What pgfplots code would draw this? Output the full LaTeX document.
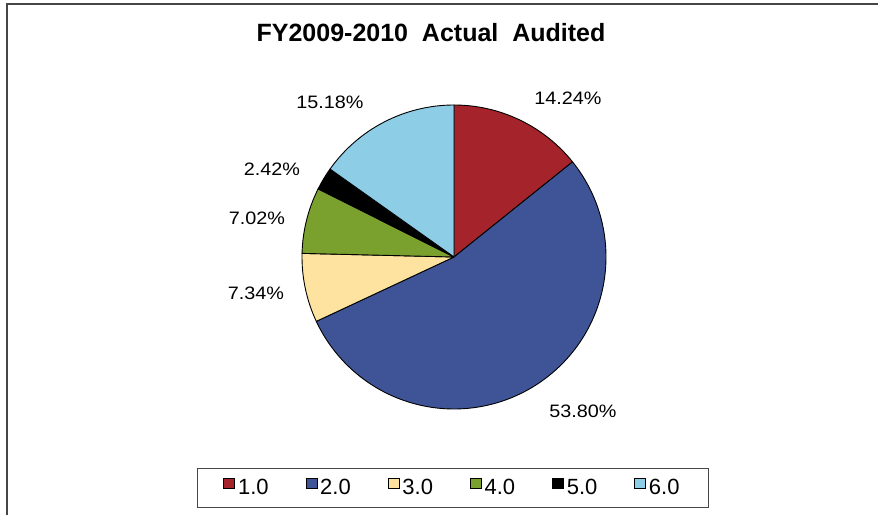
\documentclass[border=0pt]{standalone}
\usepackage{pgfplots}
\usepackage{pgfplotstable}
\pgfplotsset{compat=1.18}
\usepackage{fontspec}
\setmainfont{Liberation Sans}

\definecolor{c1}{RGB}{165,35,42}
\definecolor{c2}{RGB}{62,84,150}
\definecolor{c3}{RGB}{254,227,160}
\definecolor{c4}{RGB}{122,160,46}
\definecolor{c5}{RGB}{0,0,0}
\definecolor{c6}{RGB}{142,205,230}
\definecolor{framegray}{RGB}{70,70,70}

\pgfplotstableread{
cat pct col
1.0 14.24 c1
2.0 53.80 c2
3.0 7.34 c3
4.0 7.02 c4
5.0 2.42 c5
6.0 15.18 c6
}\piedata

\begin{document}
\begin{tikzpicture}
\begin{axis}[
  scale only axis,
  width=878pt, height=525pt,
  xmin=0, xmax=878, ymin=0, ymax=525,
  hide axis, clip=false,
  legend columns=6,
  legend image code/.code={\filldraw[#1, draw=black, line width=0.6pt] (0pt,-0.5pt) rectangle (11pt,10pt);},
  legend style={at={(axis cs:453,37)}, anchor=center, draw=framegray, line width=1.4pt,
    font=\fontsize{22}{24}\selectfont, inner xsep=26pt, inner ysep=9pt,
    nodes={inner xsep=3pt},
    /tikz/every even column/.append style={column sep=34pt}},
]
% frame
\draw[framegray, line width=2pt] (axis cs:6.5,10) -- (axis cs:6.5,520.5) -- (axis cs:878,520.5);
% pie
\def\startang{90}
\pgfplotsforeachungrouped \i in {0,...,5}{%
  \pgfplotstablegetelem{\i}{pct}\of\piedata
  \pgfmathsetmacro\endang{\startang-3.6*\pgfplotsretval}%
  \pgfplotstablegetelem{\i}{col}\of\piedata
  \edef\temp{\noexpand\filldraw[fill=\pgfplotsretval, draw=black, line width=0.9pt, line join=round]
    (axis cs:454,268) -- ++(\startang:152pt) arc[start angle=\startang, end angle=\endang, radius=152pt] -- cycle;}%
  \temp
  \global\let\startang\endang
}
% legend entries
\addlegendimage{fill=c1}\addlegendentry{1.0}
\addlegendimage{fill=c2}\addlegendentry{2.0}
\addlegendimage{fill=c3}\addlegendentry{3.0}
\addlegendimage{fill=c4}\addlegendentry{4.0}
\addlegendimage{fill=c5}\addlegendentry{5.0}
\addlegendimage{fill=c6}\addlegendentry{6.0}
% title
\node[anchor=base, font=\bfseries\fontsize{25}{29}\selectfont] at (axis cs:431,483) {FY2009-2010\ \ Actual\ \ Audited};
% data labels
\begin{scope}[every node/.style={anchor=base, font=\fontsize{18}{20}\selectfont, xscale=1.1}]
\node at (axis cs:568,420) {14.24\%};
\node at (axis cs:583,107) {53.80\%};
\node at (axis cs:256,225) {7.34\%};
\node at (axis cs:257,300) {7.02\%};
\node at (axis cs:272,349) {2.42\%};
\node at (axis cs:330,416) {15.18\%};
\end{scope}
\end{axis}
\pgfresetboundingbox
\useasboundingbox (0pt,0pt) rectangle (878pt,525pt);
\end{tikzpicture}
\end{document}
